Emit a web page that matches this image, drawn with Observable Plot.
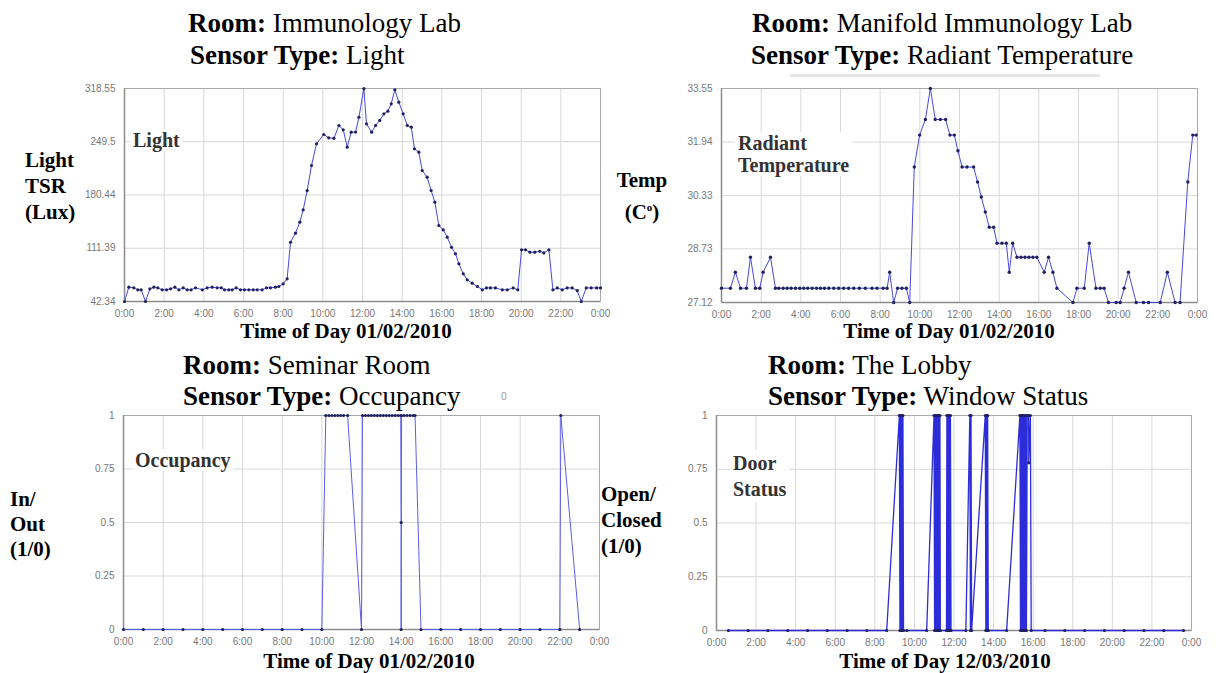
<!DOCTYPE html>
<html><head><meta charset="utf-8">
<script src="https://cdn.jsdelivr.net/npm/d3@7"></script>
<script src="https://cdn.jsdelivr.net/npm/@observablehq/plot@0.6"></script>
<style>
body{margin:0;background:#fff;}
#wrap{position:relative;width:1216px;height:673px;overflow:hidden;background:#fff;font-family:"Liberation Serif","Times New Roman",serif;color:#000;}
.t{position:absolute;white-space:nowrap;}
.title{font-size:27px;line-height:27px;}
.ax{font-size:21px;line-height:21px;font-weight:bold;text-align:center;width:400px;}
.yl{font-size:21px;font-weight:bold;}
.inner{font-size:20px;font-weight:bold;color:#333;background:#fff;padding:0 3px;}
.plot{position:absolute;}
</style></head><body><div id="wrap">
<div class="t" style="left:790px;top:74px;width:310px;height:3px;background:#e8e8e8"></div>
<div class="t title" style="left:188px;top:10px"><b>Room:</b> Immunology Lab</div>
<div class="t title" style="left:190px;top:42px"><b>Sensor Type:</b> Light</div>
<div class="t title" style="left:752px;top:10px"><b>Room:</b> Manifold Immunology Lab</div>
<div class="t title" style="left:751px;top:42px"><b>Sensor Type:</b> Radiant Temperature</div>
<div class="t title" style="left:183px;top:352px"><b>Room:</b> Seminar Room</div>
<div class="t title" style="left:183px;top:383px"><b>Sensor Type:</b> Occupancy</div>
<div class="t title" style="left:768px;top:352px"><b>Room:</b> The Lobby</div>
<div class="t title" style="left:768px;top:383px"><b>Sensor Type:</b> Window Status</div>
<div class="t" style="left:501px;top:391px;font:10px 'Liberation Sans',sans-serif;color:#999">0</div>

<div class="t ax" style="left:146px;top:321px">Time of Day 01/02/2010</div>
<div class="t ax" style="left:749px;top:321px">Time of Day 01/02/2010</div>
<div class="t ax" style="left:169px;top:651px">Time of Day 01/02/2010</div>
<div class="t ax" style="left:745px;top:651px">Time of Day 12/03/2010</div>

<div class="t yl" style="left:25px;top:147px;line-height:26px">Light<br>TSR<br>(Lux)</div>
<div class="t yl" style="left:612px;top:167px;line-height:27px;text-align:center;width:60px">Temp<br>(C<sup style="font-size:11px">o</sup>)</div>
<div class="t yl" style="left:10px;top:487px;line-height:25px">In/<br>Out<br>(1/0)</div>
<div class="t yl" style="left:601px;top:481px;line-height:26px">Open/<br>Closed<br>(1/0)</div>
</div>
<script>
// ---------- data ----------
const hourTicks = [0,2,4,6,8,10,12,14,16,18,20,22,24];

const lightTicks = [42.34,111.39,180.44,249.5,318.55];
const lightTickLabels = ["42.34","111.39","180.44","249.5","318.55"];
const lightHour = [0,0.22,0.47,0.67,0.84,1.06,1.28,1.48,1.68,1.9,2.12,2.32,2.54,2.74,2.96,3.16,3.36,3.58,3.92,4.17,4.42,4.67,4.88,5.04,5.26,5.43,5.63,5.85,6.05,6.27,6.49,6.69,6.94,7.16,7.36,7.61,7.78,8.0,8.2,
  8.37,8.62,8.84,9.01,9.21,9.43,9.68,10.05,10.3,10.56,10.81,11.03,11.23,11.43,11.65,11.82,12.07,12.2,12.46,12.66,12.87,13.08,13.28,13.45,13.63,13.83,14.05,14.26,14.46,14.62,14.84,15.01,15.26,15.46,15.65,15.85,16.07,16.27,16.49,16.69,16.86,17.08,17.28,17.53,17.79,18.04,18.25,18.45,18.7,19.05,19.3,19.6,19.83,20.02,20.22,20.44,20.69,20.94,21.14,21.4,21.6,21.82,22.07,22.32,22.57,22.83,23.03,23.28,23.53,23.8,24];
const lightLux = [42.34,60.9,60.1,57.5,57.5,42.34,58.8,60.9,60.1,57.5,57.5,58.8,60.9,57.5,60.1,57.5,57.5,60.1,57.5,60.1,60.9,60.1,60.1,57.5,57.5,57.5,60.1,57.5,57.5,57.5,57.5,57.5,57.5,60.1,60.1,60.9,61.8,65.3,71.8,
  119.2,130.9,145.2,161.2,186.2,218.7,246.8,258.9,254.6,254,270.6,265,242.5,261.9,262,281.3,318.5,272.7,261.9,270.6,277.1,285.7,289.1,298.7,316.9,300.8,285.7,270.6,268.4,240.3,236,212.2,203.5,186.3,171.1,140.9,135.3,125.7,112.7,104.2,91.2,78.2,70.5,66.1,61.8,57.5,60,60,60,57.5,57.5,60,57.5,109.4,109.4,106.3,106.3,107.5,105.3,109.4,57.5,60,57.5,60,60,56.5,42.34,60,60,60,60];

const tempTicks = [27.12,28.73,30.33,31.94,33.55];
const tempTickLabels = ["27.12","28.73","30.33","31.94","33.55"];
const tempHour = [0,0.45,0.7,0.96,1.26,1.46,1.71,1.93,2.1,2.47,2.72,
  2.89,3.11,3.31,3.51,3.73,3.95,4.15,4.35,4.57,4.79,4.99,5.19,5.41,5.66,5.91,6.16,6.41,6.67,6.95,7.25,7.59,7.84,8.15,8.35,
  8.48,8.68,8.88,9.1,9.32,9.49,9.72,9.99,10.28,10.53,10.78,11.03,11.3,11.52,11.74,11.92,12.13,12.38,12.71,12.91,13.1,13.3,13.5,13.72,13.89,14.14,14.36,14.51,14.68,
  14.9,15.1,15.3,15.5,15.7,15.9,16.27,16.49,16.71,16.91,17.72,17.92,18.29,18.54,18.88,19.1,19.29,19.51,19.9,20.1,20.3,20.52,20.91,21.28,21.53,22.12,22.48,22.87,23.12,23.51,23.76,23.93];
const tempC = [27.55,27.55,28.03,27.55,27.55,28.48,27.55,27.55,28.03,28.48,27.55,
  27.55,27.55,27.55,27.55,27.55,27.55,27.55,27.55,27.55,27.55,27.55,27.55,27.55,27.55,27.55,27.55,27.55,27.55,27.55,27.55,27.55,27.55,27.55,27.55,
  28.03,27.12,27.55,27.55,27.55,27.12,31.19,32.15,32.62,33.55,32.62,32.62,32.62,32.15,32.15,31.68,31.19,31.19,31.19,30.74,30.29,29.84,29.38,29.38,28.9,28.9,28.9,28.03,28.9,
  28.48,28.48,28.48,28.48,28.48,28.48,28.03,28.48,28.03,27.55,27.12,27.55,27.55,28.9,27.55,27.55,27.55,27.12,27.12,27.12,27.55,28.03,27.12,27.12,27.12,27.12,28.03,27.12,27.12,30.74,32.15,32.15];

const binaryTicks = [0,0.25,0.5,0.75,1];
const binaryTickLabels = ["0","0.25","0.5","0.75","1"];
const occHour = [0,1,2,3,4,5,6,7,8,9,10,
  10.2,10.35,10.5,10.65,10.8,10.95,11.1,11.3,12,
  12.05,12.2,12.35,12.5,12.65,12.8,12.95,13.1,13.25,13.4,13.55,13.7,13.85,13.98,14,14,14.02,
  14.15,14.3,14.45,14.6,14.7,15,16,17,18,19,20,21,22,22.05,23];
const occValue = [0,0,0,0,0,0,0,0,0,0,0,
  1,1,1,1,1,1,1,1,0,
  1,1,1,1,1,1,1,1,1,1,1,1,1,1,0.5,0,1,
  1,1,1,1,1,0,0,0,0,0,0,0,0,1,0];

const doorHour = [0.6,1.6,2.6,3.6,4.6,5.6,6.6,7.6,8.6,
  9.24,9.27,9.3,9.33,9.36,9.39,9.42,9.45,9.62,10.62,
  10.99,11.02,11.05,11.08,11.11,11.14,11.17,11.2,11.23,11.26,11.29,11.31,
  11.62,11.64,11.67,11.7,11.73,11.76,11.79,11.82,11.85,
  12.6,12.8,12.83,12.86,12.89,13.58,13.61,13.64,13.67,13.7,13.73,14.66,
  15.33,15.36,15.39,15.42,15.45,15.48,15.51,15.54,15.57,15.6,15.63,15.66,15.7,15.77,15.78,15.86,15.9,
  16.6,17.6,18.6,19.6,20.6,21.6,22.6,23.6];
const doorValue = [0,0,0,0,0,0,0,0,0,
  1,0,1,0,1,0,1,0,0,0,
  1,0,1,0,1,0,1,0,1,0,1,0,
  0,1,0,1,0,1,0,1,0,
  0,1,0,1,0,1,0,1,0,1,0,0,
  1,0,1,0,1,0,1,0,1,0,1,0,1,1,0.78,1,0,
  0,0,0,0,0,0,0,0];

// ---------- drawing ----------
const wrap = document.getElementById("wrap");
function panel({hours, values, yTicks, yLabels, frame, stroke, strokeWidth, dotR}) {
  const mL = 50, mR = 10, mT = 8, mB = 25;
  const width = mL + (frame.R - frame.L) + mR;
  const height = mT + (frame.B - frame.T) + mB;
  const idx = d3.range(hours.length);
  const y0 = yTicks[0], y1 = yTicks[yTicks.length - 1];
  const svg = Plot.plot({
    width, height, marginLeft: mL, marginRight: mR, marginTop: mT, marginBottom: mB,
    style: {fontFamily: "'Liberation Sans', Arial, sans-serif", fontSize: "10px", color: "#777", background: "transparent", overflow: "visible"},
    x: {domain: [0, 24], ticks: hourTicks, tickFormat: h => (h % 24) + ":00", tickSize: 0, tickPadding: 8, label: null},
    y: {domain: [y0, y1], ticks: yTicks, tickFormat: v => yLabels[yTicks.indexOf(v)], tickSize: 0, tickPadding: 9, label: null},
    marks: [
      Plot.ruleX(hourTicks, {stroke: "#d8d8d8"}),
      Plot.ruleY(yTicks, {stroke: "#d8d8d8"}),
      Plot.frame({stroke: "#aaaaaa"}),
      Plot.ruleX([0], {stroke: "#8c8c8c", strokeWidth: 1.5}),
      Plot.ruleY([y0], {stroke: "#8c8c8c", strokeWidth: 1.5}),
      Plot.line(idx, {x: i => hours[i], y: i => values[i], stroke, strokeWidth}),
      Plot.dot(idx, {x: i => hours[i], y: i => values[i], r: dotR, fill: "#20205e"})
    ]
  });
  svg.classList.add("plot");
  svg.style.left = (frame.L - mL) + "px";
  svg.style.top = (frame.T - mT) + "px";
  wrap.appendChild(svg);
}

panel({hours: lightHour, values: lightLux, yTicks: lightTicks, yLabels: lightTickLabels,
  frame: {L: 124, R: 600, T: 88, B: 301}, stroke: "#4848e0", strokeWidth: 1, dotR: 1.6});
panel({hours: tempHour, values: tempC, yTicks: tempTicks, yLabels: tempTickLabels,
  frame: {L: 721, R: 1197, T: 88, B: 302}, stroke: "#4848e0", strokeWidth: 1, dotR: 1.7});
panel({hours: occHour, values: occValue, yTicks: binaryTicks, yLabels: binaryTickLabels,
  frame: {L: 123, R: 599, T: 415, B: 629}, stroke: "#5c5cec", strokeWidth: 1, dotR: 1.6});
panel({hours: doorHour, values: doorValue, yTicks: binaryTicks, yLabels: binaryTickLabels,
  frame: {L: 716, R: 1191, T: 415, B: 630}, stroke: "#2c2cd8", strokeWidth: 1.3, dotR: 1.6});

// inner labels (drawn after the plots so they sit on top)
const inner = [
  {html: "Light", left: 130, top: 129, lh: 22},
  {html: "Radiant<br>Temperature", left: 735, top: 132, lh: 22},
  {html: "Occupancy", left: 132, top: 449, lh: 22},
  {html: "Door<br>Status", left: 730, top: 450, lh: 26}
];
for (const d of inner) {
  const el = document.createElement("div");
  el.className = "t inner";
  el.style.left = d.left + "px"; el.style.top = d.top + "px"; el.style.lineHeight = d.lh + "px";
  el.innerHTML = d.html;
  wrap.appendChild(el);
}
</script>
</body></html>
